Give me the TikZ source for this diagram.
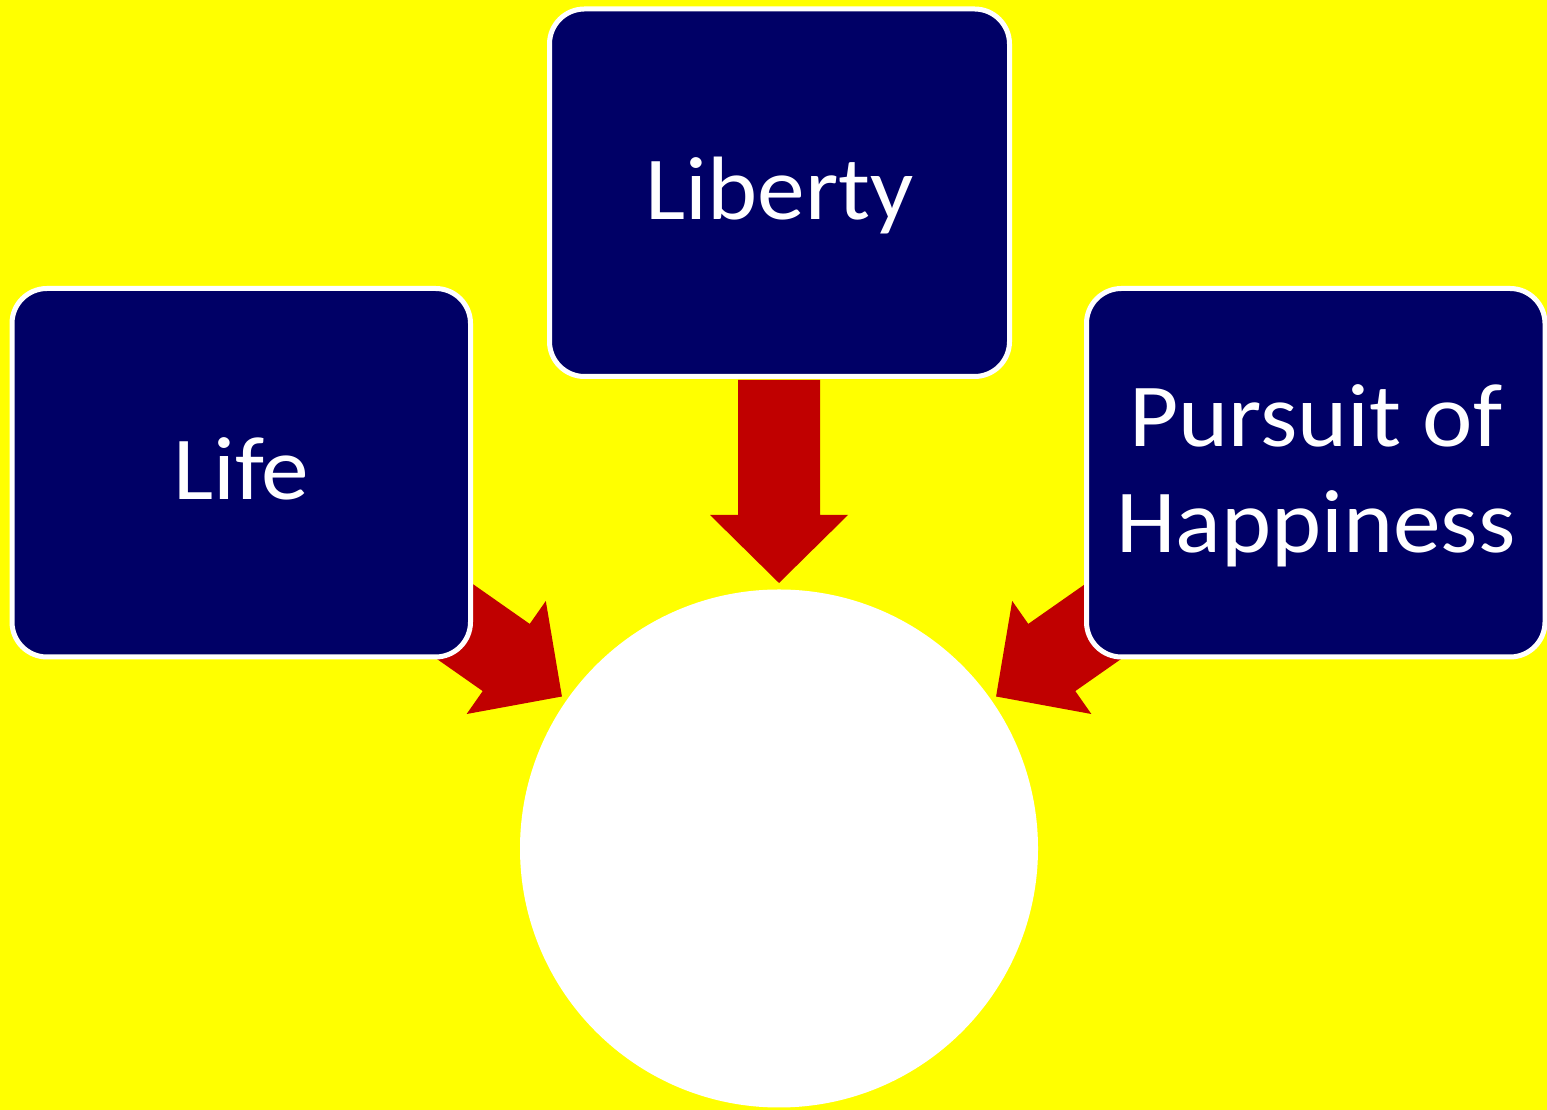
\documentclass[tikz,border=0pt]{standalone}
\usepackage{fontspec}
\setmainfont{Carlito}[FakeStretch=1.06]
\usetikzlibrary{calc}
\definecolor{bgyellow}{HTML}{FFFF00}
\definecolor{boxnavy}{HTML}{000066}
\definecolor{arrowred}{HTML}{C00000}
\tikzset{
  valuebox/.style={rectangle, rounded corners=35pt, draw=white, line width=5pt,
    fill=boxnavy, text=white, inner sep=0pt, align=center,
    font=\fontsize{90}{106}\selectfont, text height=74pt, text depth=20pt},
  goalcircle/.style={circle, fill=white, draw=none, inner sep=0pt, minimum size=518pt},
  pics/blockarr/.style={code={
    \fill[arrowred] (0,0) -- (-68,69) -- (-68,41) -- (-#1,41) -- (-#1,-41)
      -- (-68,-41) -- (-68,-69) -- cycle;}}
}
\begin{document}
\begin{tikzpicture}[x=1pt,y=1pt]
\fill[bgyellow] (0,0) rectangle (1547,1110);
\useasboundingbox (0,0) rectangle (1547,1110);
% central circle
\node[goalcircle] (goal) at (779,261.5) {};
% arrow tips
\coordinate (tipD) at ($(goal.center)+(90:265.5)$);
\coordinate (tipL) at ($(goal.center)+(145:265)$);
\coordinate (tipR) at ($(goal.center)+(35:265)$);
% block arrows
\pic[rotate=-90] at (tipD) {blockarr=203};
\pic[rotate=-35] at (tipL) {blockarr=170};
\pic[rotate=-145] at (tipR) {blockarr=170};
% boxes
\node[valuebox, minimum width=460pt, minimum height=367.5pt] (liberty) at (779.5,917.25) {Liberty};
\node[valuebox, minimum width=458.5pt, minimum height=368.5pt] (life) at (241.25,637.25) {Life};
\node[valuebox, minimum width=458.5pt, minimum height=368.5pt, text height=179pt, text depth=20pt] (pursuit) at (1315.75,637.25) {Pursuit of\\Happiness};
\end{tikzpicture}
\end{document}
